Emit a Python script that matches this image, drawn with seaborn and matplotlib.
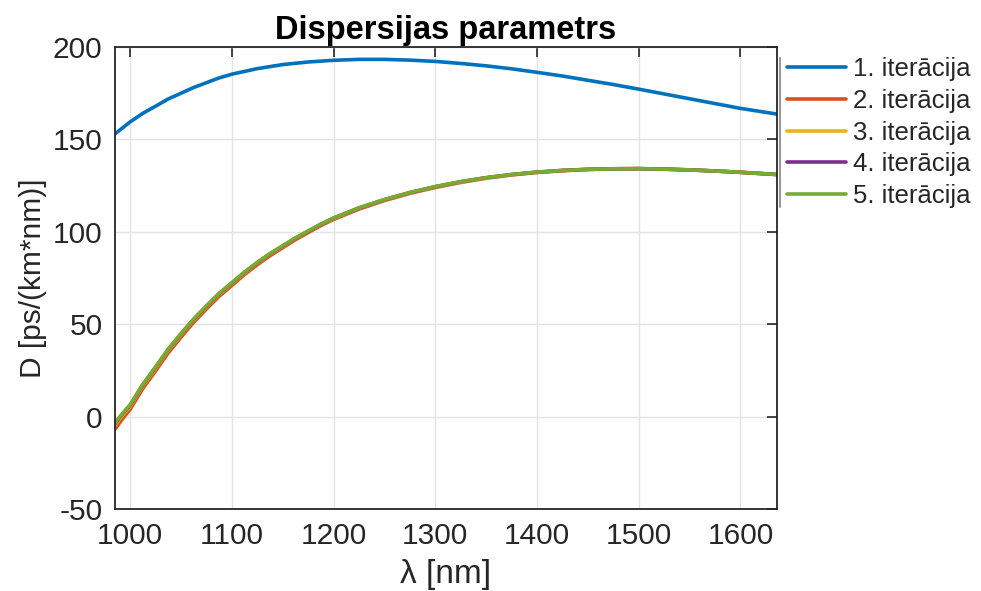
import numpy as np
import pandas as pd
import seaborn as sns
import matplotlib
matplotlib.use("Agg")
import matplotlib.pyplot as plt
from matplotlib.lines import Line2D

# ---- data ----
lam_blue = [985, 1000, 1012, 1025, 1037, 1050, 1062, 1075, 1087, 1100,
            1125, 1150, 1175, 1200, 1225, 1250, 1275, 1300, 1325, 1350,
            1375, 1400, 1425, 1450, 1475, 1500, 1525, 1550, 1575, 1600, 1636]
d_it1 = [153.0, 159.5, 164.0, 168.0, 171.8, 175.0, 178.0, 180.7, 183.2, 185.3,
         188.3, 190.5, 191.9, 192.8, 193.3, 193.3, 192.9, 192.2, 191.1, 189.8,
         188.2, 186.3, 184.3, 182.0, 179.7, 177.2, 174.6, 172.0, 169.4, 166.8, 163.7]

lam = [985, 992, 1000, 1012, 1025, 1037, 1050, 1062, 1075, 1087,
       1100, 1112, 1125, 1137, 1150, 1162, 1175, 1187, 1200, 1225,
       1250, 1275, 1300, 1325, 1350, 1375, 1400, 1425, 1450, 1475,
       1500, 1525, 1550, 1575, 1600, 1636]
d_it2 = [-6.8, -1.5, 4.0, 14.9, 24.8, 34.2, 43.0, 50.8, 58.3, 64.9,
         71.0, 76.7, 82.2, 86.9, 91.4, 95.6, 99.6, 103.25, 106.7, 112.3,
         116.9, 120.8, 124.0, 126.7, 129.0, 130.75, 132.1, 133.05, 133.7, 134.0,
         134.1, 133.9, 133.5, 132.9, 132.2, 131.0]
d_it3 = [-4.6, 0.5, 5.6, 16.4, 26.3, 35.6, 44.4, 52.1, 59.5, 66.0,
         72.0, 77.6, 83.1, 87.7, 92.1, 96.3, 100.2, 103.8, 107.2, 112.8,
         117.3, 121.1, 124.3, 127.0, 129.2, 130.9, 132.2, 133.2, 133.8, 134.1,
         134.2, 133.9, 133.5, 132.9, 132.2, 131.0]
d_it4 = [-3.8, 1.2, 6.2, 16.9, 26.8, 36.1, 44.8, 52.4, 59.8, 66.3,
         72.3, 77.9, 83.3, 87.9, 92.3, 96.4, 100.3, 103.9, 107.4, 112.9,
         117.4, 121.2, 124.4, 127.1, 129.3, 131.0, 132.3, 133.2, 133.8, 134.1,
         134.2, 133.9, 133.5, 132.9, 132.2, 131.0]
d_it5 = [-3.5, 1.5, 6.5, 17.2, 27.0, 36.3, 45.0, 52.6, 60.0, 66.5,
         72.5, 78.1, 83.5, 88.1, 92.5, 96.6, 100.5, 104.1, 107.5, 113.0,
         117.5, 121.3, 124.5, 127.1, 129.3, 131.0, 132.3, 133.2, 133.8, 134.1,
         134.2, 133.9, 133.5, 132.9, 132.2, 131.0]

labels = ["1. iterācija", "2. iterācija", "3. iterācija", "4. iterācija", "5. iterācija"]
xticks = [1000, 1100, 1200, 1300, 1400, 1500, 1600]
yticks = [-50, 0, 50, 100, 150, 200]

frames = []
for name, xs, ys in zip(labels, [lam_blue, lam, lam, lam, lam],
                        [d_it1, d_it2, d_it3, d_it4, d_it5]):
    frames.append(pd.DataFrame({"lambda": xs, "D": ys, "series": name}))
df = pd.concat(frames, ignore_index=True)

# ---- style ----
sns.set_theme(style="white")
plt.rcParams["font.family"] = ["Liberation Sans", "DejaVu Sans"]
plt.rcParams["axes.unicode_minus"] = False
palette = ["#0072BD", "#D95319", "#EDB120", "#7E2F8E", "#77AC30"]

fig = plt.figure(figsize=(9.81, 5.91), dpi=100)
ax = fig.add_axes([115 / 981, 1 - 509 / 591, (777 - 115) / 981, (509 - 47) / 591])

sns.lineplot(data=df, x="lambda", y="D", hue="series", hue_order=labels,
             palette=palette, linewidth=2.6, ax=ax, sort=False, estimator=None)

ax.set_xlim(985, 1636)
ax.set_ylim(-50, 200)
ax.set_xticks(xticks)
ax.set_yticks(yticks)
ax.grid(True, color="#e3e3e3", linewidth=1.0)
ax.set_axisbelow(True)
ax.tick_params(direction="in", length=7, width=1.2, top=True, right=True,
               labelsize=21.5, colors="#262626", pad=9)
for s in ax.spines.values():
    s.set_color("#262626")
    s.set_linewidth(1.3)
    s.set_visible(True)

ax.set_title("Dispersijas parametrs", fontsize=23.5, fontweight="bold", color="black", pad=6)
ax.set_xlabel("λ [nm]", fontsize=24, color="#262626", labelpad=7)
ax.set_ylabel("D [ps/(km*nm)]", fontsize=21.5, color="#262626", labelpad=4)

leg = ax.legend(loc="upper left", bbox_to_anchor=(1.0, 1.0), frameon=False,
                fontsize=18.5, handlelength=2.3, handletextpad=0.25,
                labelspacing=0.3, borderaxespad=0.0, borderpad=0.4)
for h in leg.get_lines():
    h.set_linewidth(2.6)

fig.add_artist(Line2D([779.5 / 981, 779.5 / 981], [1 - 58 / 591, 1 - 207 / 591],
                      transform=fig.transFigure, color="#9a9a9a", linewidth=1.5))

fig.savefig("out.png", dpi=100, facecolor="white")
